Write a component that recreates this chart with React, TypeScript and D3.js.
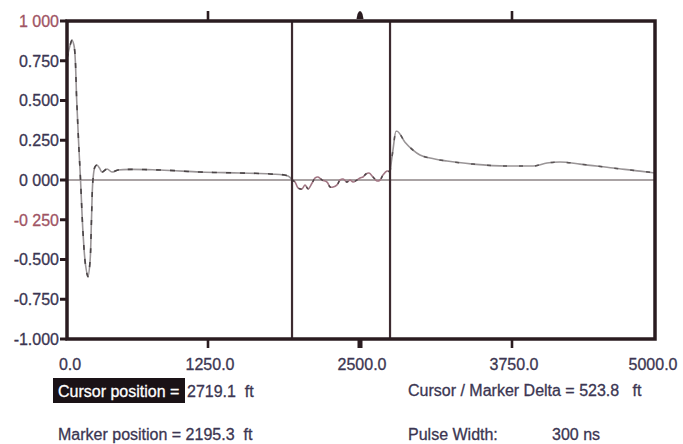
import React from "react";
import * as d3 from "d3";

// ---------- data ----------
const xTickValues = [0, 1250, 2500, 3750, 5000];
const xTickLabels = ["0.0", "1250.0", "2500.0", "3750.0", "5000.0"];
const yTickValues = [1, 0.75, 0.5, 0.25, 0, -0.25, -0.5, -0.75, -1];
const yTickLabels = ["1 000", "0.750", "0.500", "0.250", "0 000", "-0 250", "-0.500", "-0.750", "-1.000"];

// trace before the marker (distance ft, reflection coefficient)
const traceA_x = [0, 27, 44, 62, 86, 102, 120, 142, 164, 186, 204, 217, 230, 248, 266, 288, 310, 355, 399, 452, 824, 1179, 1513, 1760, 1908, 1941];
const traceA_y = [0.765, 0.846, 0.878, 0.846, 0.502, 0.251, 0, -0.332, -0.533, -0.608, -0.514, -0.251, 0, 0.082, 0.094, 0.075, 0.05, 0.069, 0.05, 0.063, 0.063, 0.05, 0.044, 0.038, 0.025, 0];
// trace between marker and cursor
const traceB_x = [1941, 1966, 1990, 2023, 2048, 2073, 2106, 2131, 2155, 2188, 2229, 2254, 2279, 2311, 2336, 2361, 2393, 2418, 2443, 2475, 2500, 2525, 2549, 2574, 2607, 2640, 2665, 2689, 2722, 2747];
const traceB_y = [0, -0.013, -0.05, -0.056, -0.031, -0.056, -0.019, 0.013, 0.019, 0, -0.013, -0.044, -0.044, -0.031, 0, 0.006, -0.013, 0, -0.013, 0, 0.013, 0.019, 0.038, 0.044, 0.019, -0.006, 0, 0.031, 0.056, 0.05];
// trace after the cursor
const traceC_x = [2747, 2771, 2796, 2804, 2870, 2936, 2993, 3076, 3215, 3429, 3709, 3934, 4056, 4170, 4345, 4633, 4869, 5000];
const traceC_y = [0.05, 0.188, 0.307, 0.307, 0.238, 0.188, 0.157, 0.138, 0.119, 0.1, 0.088, 0.088, 0.107, 0.113, 0.1, 0.075, 0.056, 0.044];

const markerPos = 1941; // axis position of the marker line
const cursorPos = 2747; // axis position of the cursor line

const cursorText = "Cursor position =";
const cursorValue = "2719.1  ft";
const markerText = "Marker position = 2195.3  ft";
const deltaText = "Cursor / Marker Delta = 523.8   ft";
const pulseLabel = "Pulse Width:";
const pulseValue = "300 ns";

// ---------- styles ----------
const W = 683;
const H = 444;
const frameColor = "#2a1c20";
const textColor = "#3b3652";
const redText = "#a05464";
const FONT = "'Liberation Sans Narrow', 'Arial Narrow', 'Liberation Sans', Arial, sans-serif";
const txtStyle: React.CSSProperties = { whiteSpace: "pre" };

export default function App() {
  const x = d3.scaleLinear().domain(xTickValues).range([67, 208, 360, 512, 655]);
  const y = d3.scaleLinear().domain([-1, 1]).range([339, 21]);

  const line = d3
    .line<[number, number]>()
    .x((d) => x(d[0]))
    .y((d) => y(d[1]))
    .curve(d3.curveMonotoneX);
  const lineLin = d3
    .line<[number, number]>()
    .x((d) => x(d[0]))
    .y((d) => y(d[1]))
    .curve(d3.curveCatmullRom.alpha(0.5));

  const A = traceA_x.map((v, i) => [v, traceA_y[i]] as [number, number]);
  const B = traceB_x.map((v, i) => [v, traceB_y[i]] as [number, number]);
  const C = traceC_x.map((v, i) => [v, traceC_y[i]] as [number, number]);

  const x0 = x(0);
  const x1 = x(5000);
  const yTop = y(1);
  const yBot = y(-1);
  const innerTicks = xTickValues.slice(1, -1);

  const textProps = { fontSize: 16, stroke: textColor, strokeWidth: 0.3, style: txtStyle };

  return (
    <svg
      width={W}
      height={H}
      style={{ position: "fixed", left: 0, top: 0, background: "#fff" }}
      fontFamily={FONT}
    >
      <rect width={W} height={H} fill="#fff" />
      {/* zero line */}
      <line x1={x0} x2={x1} y1={y(0)} y2={y(0)} stroke="#8e8486" strokeWidth={1.6} />

      {/* traces */}
      <path d={lineLin(A) || ""} fill="none" stroke="#9a9597" strokeWidth={1.6} />
      <path d={lineLin(A) || ""} fill="none" stroke="#4a4446" strokeWidth={1.6} strokeDasharray="5 9" />
      <path d={lineLin(B) || ""} fill="none" stroke="#a27684" strokeWidth={1.6} />
      <path d={lineLin(B) || ""} fill="none" stroke="#4a4446" strokeWidth={1.4} strokeDasharray="3 8" />
      <path d={line(C) || ""} fill="none" stroke="#9a9597" strokeWidth={1.6} />
      <path d={line(C) || ""} fill="none" stroke="#5a5456" strokeWidth={1.5} strokeDasharray="4 12" />

      {/* marker & cursor lines */}
      {[markerPos, cursorPos].map((p, i) => (
        <line key={i} x1={x(p)} x2={x(p)} y1={yTop} y2={yBot} stroke="#3d2b30" strokeWidth={2.2} />
      ))}

      {/* frame */}
      <rect x={x0} y={yTop} width={x1 - x0} height={yBot - yTop} fill="none" stroke={frameColor} strokeWidth={3.5} />

      {/* x ticks top & bottom */}
      {innerTicks.map((t, i) =>
        t === 2500 ? null : (
          <g key={i}>
            <line x1={x(t)} x2={x(t)} y1={yTop} y2={yTop - 10} stroke={frameColor} strokeWidth={2.6} />
            <line x1={x(t)} x2={x(t)} y1={yBot} y2={yBot + 9} stroke={frameColor} strokeWidth={2.6} />
          </g>
        )
      )}
      {/* centre marker (bell) */}
      <path
        d={`M${x(2500) - 3.5},${yTop - 2} L${x(2500) - 2.5},${yTop - 7} Q${x(2500)},${yTop - 13} ${x(2500) + 2.5},${yTop - 7} L${x(2500) + 3.5},${yTop - 2} Z`}
        fill={frameColor}
      />
      <rect x={x(2500) - 2.5} y={yBot} width={5} height={9} fill={frameColor} />

      {/* y ticks */}
      {yTickValues.map((t, i) => {
        const c = t === 1 || t === -0.25 ? redText : textColor;
        return (
          <g key={i}>
            <line x1={x0} x2={x0 - 7} y1={y(t)} y2={y(t)} stroke={frameColor} strokeWidth={3} />
            <text x={59} y={y(t)} dy="0.36em" textAnchor="end" {...textProps} fill={c} stroke={c}>
              {yTickLabels[i]}
            </text>
          </g>
        );
      })}

      {/* x labels */}
      {xTickValues.map((t, i) => (
        <text
          key={i}
          x={i === 0 ? x(t) + 3 : i === 4 ? x(t) - 2 : x(t) + 2}
          y={370}
          textAnchor="middle"
          {...textProps}
          fill={textColor}
        >
          {xTickLabels[i]}
        </text>
      ))}

      {/* info text */}
      <rect x={53} y={378} width={132} height={25} fill="#1a1216" />
      <text x={58} y={397} {...textProps} fill="#fff" stroke="#fff">
        {cursorText}
      </text>
      <text x={187} y={397} {...textProps} fill={textColor}>
        {cursorValue}
      </text>
      <text x={58} y={440} {...textProps} fill={textColor}>
        {markerText}
      </text>
      <text x={408} y={396} {...textProps} fill={textColor}>
        {deltaText}
      </text>
      <text x={408} y={440} {...textProps} fill={textColor}>
        {pulseLabel}
      </text>
      <text x={552} y={440} {...textProps} fill={textColor}>
        {pulseValue}
      </text>
    </svg>
  );
}
